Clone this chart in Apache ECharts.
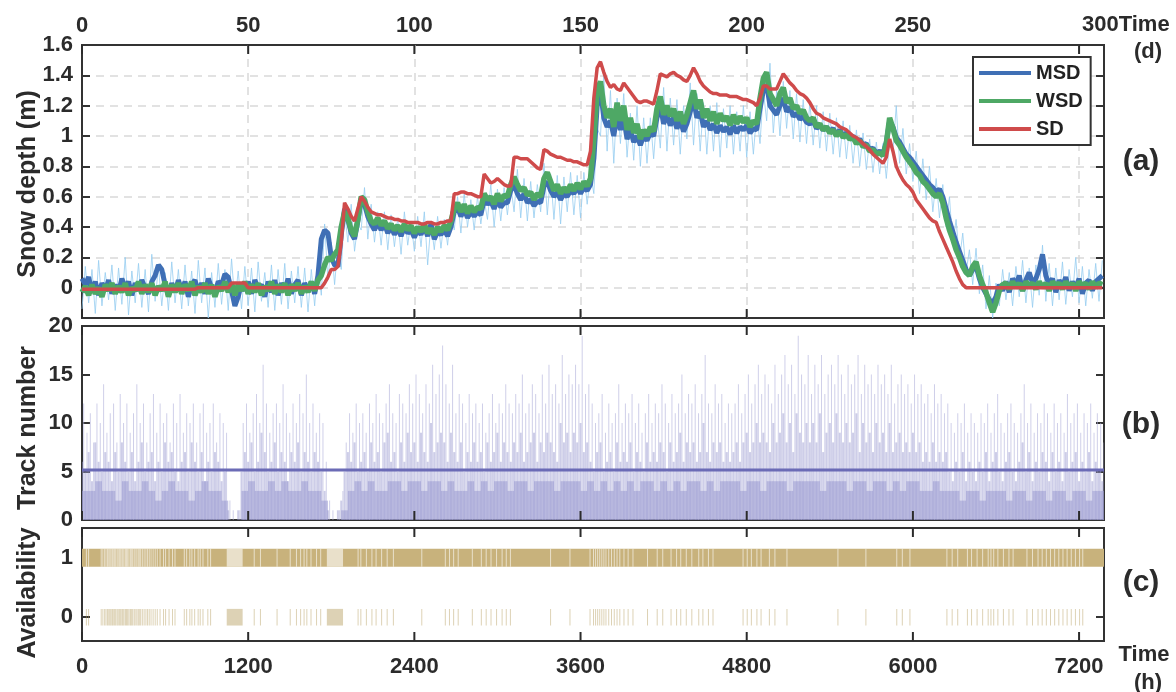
<!DOCTYPE html>
<html>
<head>
<meta charset="utf-8">
<script src="https://cdn.jsdelivr.net/npm/echarts@6/dist/echarts.min.js"></script>
<style>html,body{margin:0;padding:0;background:#fff}#c{width:1176px;height:692px}</style>
</head>
<body>
<div id="c"></div>
<script>
// ---------- DATA ----------
// Daily snow depth (m), index = day 0..307
const sdDepth = [
-0.01,-0.01,-0.01,-0.01,-0.01,-0.01,-0.01,-0.01,-0.01,-0.01,
-0.01,-0.01,-0.01,-0.01,-0.01,-0.01,-0.01,-0.01,-0.01,-0.01,
-0.01,-0.01,-0.01,-0.01,-0.01,-0.01,-0.01,-0.01,-0.01,-0.01,
-0.01,-0.01,-0.01,-0.01,-0.01,0,0,0,0,0,
0,0,0,0,0,0.03,0.03,0.03,0.03,0.03,
0,0,0,0,0,0,0,0,0,0,
0,0,0,0,0,0,0,0,0,0,
0,0,0,0.03,0.07,0.12,0.12,0.14,0.3,0.56,
0.52,0.47,0.44,0.52,0.6,0.57,0.53,0.5,0.49,0.48,
0.48,0.47,0.46,0.46,0.45,0.45,0.44,0.44,0.43,0.43,
0.43,0.43,0.42,0.42,0.43,0.43,0.42,0.42,0.43,0.43,
0.44,0.44,0.62,0.62,0.63,0.63,0.62,0.62,0.61,0.6,
0.6,0.75,0.72,0.69,0.7,0.72,0.7,0.68,0.67,0.67,
0.86,0.86,0.85,0.85,0.85,0.83,0.81,0.79,0.78,0.91,
0.9,0.88,0.87,0.86,0.86,0.85,0.84,0.84,0.83,0.83,
0.82,0.81,0.81,0.9,1.25,1.45,1.49,1.42,1.36,1.32,
1.34,1.31,1.3,1.35,1.32,1.29,1.26,1.23,1.22,1.23,
1.23,1.22,1.21,1.3,1.41,1.4,1.39,1.41,1.42,1.4,
1.39,1.37,1.36,1.4,1.45,1.41,1.36,1.33,1.31,1.29,
1.28,1.28,1.27,1.27,1.27,1.26,1.26,1.26,1.25,1.24,
1.24,1.23,1.22,1.2,1.25,1.33,1.33,1.31,1.31,1.31,
1.36,1.41,1.38,1.35,1.33,1.3,1.28,1.27,1.25,1.22,
1.18,1.15,1.14,1.12,1.11,1.1,1.09,1.08,1.06,1.05,
1.04,1.02,1.0,0.99,0.97,0.95,0.93,0.91,0.88,0.86,
0.84,0.82,0.86,0.98,0.9,0.8,0.75,0.71,0.68,0.66,
0.63,0.58,0.55,0.52,0.49,0.46,0.44,0.43,0.37,0.32,
0.27,0.22,0.17,0.11,0.06,0.02,0,0,0,0,
0,0,0,0,0,0,0,0,0,0,
0,0,0,0,0,0,0,0,0,0,
0,0,0,0,0,0,0,0,0,0,
0,0,0,0,0,0,0,0
];
const wsdDepth = [
-0.03,0.01,-0.05,0.02,-0.04,0,-0.06,0.02,-0.02,0.03,
-0.04,0.01,-0.03,0.03,-0.05,0,-0.02,0.04,-0.04,0.02,
-0.03,0.03,-0.05,0.01,-0.02,0.04,-0.06,0.02,-0.03,0.03,
-0.04,0.02,-0.02,0.04,-0.05,0.01,-0.03,0.03,-0.04,0.02,
-0.06,0.01,-0.02,0.04,-0.03,0.03,-0.05,0.02,-0.02,0.04,
-0.04,0.02,-0.03,0.03,-0.05,0.01,-0.02,0.04,-0.04,0.02,
-0.03,0.03,-0.05,0.02,-0.02,0.03,-0.04,0.01,-0.03,0.04,
-0.02,0.05,0.08,0.15,0.2,0.18,0.22,0.25,0.4,0.5,
0.46,0.38,0.34,0.45,0.6,0.58,0.5,0.44,0.42,0.46,
0.41,0.44,0.39,0.42,0.38,0.41,0.37,0.42,0.38,0.41,
0.36,0.4,0.37,0.42,0.36,0.39,0.35,0.4,0.37,0.41,
0.38,0.44,0.52,0.56,0.5,0.55,0.49,0.54,0.5,0.53,
0.52,0.62,0.58,0.6,0.55,0.62,0.57,0.61,0.6,0.68,
0.73,0.68,0.64,0.66,0.61,0.63,0.58,0.62,0.6,0.72,
0.76,0.7,0.64,0.68,0.62,0.66,0.63,0.68,0.64,0.69,
0.65,0.7,0.67,0.72,0.98,1.3,1.36,1.2,1.12,1.18,
1.06,1.22,1.1,1.2,1.04,1.12,1.02,1.08,0.98,1.04,
1.0,1.06,1.03,1.18,1.26,1.14,1.2,1.13,1.18,1.1,
1.16,1.08,1.14,1.22,1.3,1.18,1.24,1.12,1.18,1.1,
1.16,1.08,1.15,1.1,1.13,1.07,1.14,1.08,1.13,1.09,
1.12,1.06,1.1,1.08,1.25,1.38,1.42,1.28,1.24,1.2,
1.28,1.32,1.22,1.25,1.18,1.2,1.15,1.17,1.12,1.1,
1.12,1.06,1.08,1.04,1.06,1.02,1.04,1.0,1.03,0.99,
1.01,0.98,0.99,0.95,0.97,0.93,0.94,0.9,0.91,0.88,
0.89,0.87,0.95,1.12,1.05,0.97,0.94,0.9,0.86,0.83,
0.8,0.76,0.74,0.7,0.68,0.65,0.62,0.6,0.62,0.56,
0.46,0.38,0.32,0.25,0.2,0.14,0.1,0.08,0.14,0.17,
0.08,0.02,-0.03,-0.1,-0.16,-0.1,-0.02,0.02,0.03,-0.01,
0.04,0,0.03,-0.02,0.04,0.01,0.03,-0.01,0.04,0,
0.03,-0.02,0.04,0.01,0.03,-0.01,0.04,0,0.03,-0.02,
0.04,0.01,0.03,-0.01,0.04,0,0.03,0.02
];
const msdDepth = [
0.06,0.02,0.07,-0.03,0.04,-0.05,0.03,-0.02,0.05,-0.04,
0.02,-0.03,0.06,0,0.04,-0.05,0.03,-0.02,0.05,0,
-0.04,0.04,0.08,0.15,0.12,0.02,-0.05,0.03,-0.03,0.05,
-0.02,0.04,-0.06,0.02,0.05,-0.03,0.03,-0.04,0.06,0,
-0.03,0.04,0.02,0.09,0.07,-0.02,-0.12,-0.06,0.03,-0.02,
0.04,-0.04,0.05,0,0.02,-0.06,0.04,-0.03,0.05,-0.05,
0.03,-0.02,0.06,-0.04,0.02,0.05,-0.05,0.03,-0.02,0.04,
-0.04,0.08,0.32,0.38,0.36,0.2,0.15,0.14,0.35,0.52,
0.45,0.36,0.32,0.44,0.58,0.55,0.47,0.42,0.38,0.43,
0.38,0.42,0.36,0.4,0.35,0.39,0.34,0.4,0.36,0.38,
0.33,0.38,0.35,0.4,0.34,0.42,0.32,0.37,0.35,0.38,
0.34,0.4,0.5,0.53,0.47,0.52,0.46,0.5,0.47,0.5,
0.48,0.58,0.55,0.57,0.52,0.58,0.53,0.56,0.56,0.64,
0.68,0.62,0.58,0.62,0.56,0.58,0.54,0.57,0.56,0.67,
0.7,0.64,0.6,0.63,0.58,0.62,0.6,0.64,0.62,0.66,
0.62,0.66,0.64,0.68,0.85,1.2,1.3,1.12,1.06,1.1,
1.0,1.14,1.04,1.12,0.98,1.04,0.96,1.0,0.94,1.0,
0.97,1.02,1.0,1.12,1.2,1.08,1.14,1.07,1.12,1.05,
1.1,1.03,1.08,1.16,1.24,1.12,1.16,1.06,1.1,1.04,
1.08,1.02,1.07,1.03,1.06,1.01,1.07,1.02,1.06,1.04,
1.07,1.02,1.05,1.04,1.18,1.3,1.34,1.2,1.17,1.14,
1.2,1.25,1.16,1.19,1.13,1.15,1.11,1.13,1.09,1.08,
1.1,1.05,1.07,1.04,1.06,1.03,1.05,1.01,1.04,1.0,
1.02,0.99,1.0,0.96,0.98,0.94,0.95,0.91,0.92,0.89,
0.9,0.88,0.96,1.1,1.06,0.99,0.96,0.92,0.88,0.86,
0.83,0.8,0.77,0.74,0.71,0.68,0.66,0.63,0.65,0.6,
0.52,0.44,0.37,0.3,0.24,0.18,0.12,0.08,0.12,0.14,
0.06,0,-0.04,-0.08,-0.1,-0.06,0.02,-0.02,0.04,-0.03,
0.06,0.02,0.08,-0.02,0.05,0.1,0.03,0.06,0.12,0.22,
0.08,0.02,0.06,-0.03,0.05,0.01,0.07,-0.02,0.04,0,
0.06,-0.04,0.03,0.05,-0.02,0.04,0.06,0.08
];
// Raw (hourly) MSD scatter envelope, every 2 days (index*2 = day)
const rawHi = [
0.14,0.12,0.18,0.1,0.15,0.13,0.2,0.11,0.16,0.12,0.22,0.14,0.1,0.17,0.12,0.15,0.11,0.18,
0.13,0.1,0.16,0.12,0.19,0.11,0.14,0.13,0.17,0.1,0.15,0.12,0.16,0.11,0.14,0.13,0.12,0.16,
0.42,0.3,0.28,0.5,
0.55,0.42,0.66,0.55,0.5,0.5,0.48,0.46,0.5,0.44,0.47,0.5,0.43,0.47,0.45,0.5,
0.6,0.62,0.58,0.6,0.58,0.68,0.65,0.66,0.68,0.78,0.72,0.7,0.68,0.82,0.75,0.74,0.73,0.76,0.74,0.76,0.75,
1.05,1.42,1.3,1.25,1.28,1.15,1.2,1.12,1.12,1.15,1.32,1.25,1.24,1.2,1.35,1.28,1.22,1.2,1.22,1.18,1.2,1.16,1.2,1.16,1.15,1.3,1.48,
1.3,1.36,1.3,1.28,1.24,1.22,1.2,1.16,1.15,1.12,1.1,1.07,1.04,1.02,0.98,0.96,0.95,0.97,1.2,1.05,0.95,0.9,0.85,0.8,0.72,0.68,0.6,0.45,0.36,0.25,0.26,0.15,
0.08,0.03,0.12,0.1,0.14,0.18,0.13,0.15,0.28,0.16,0.13,0.17,0.12,0.2,0.14,0.12,0.16,0.18
];
const rawLo = [
-0.14,-0.1,-0.17,-0.12,-0.08,-0.15,-0.11,-0.18,-0.1,-0.13,-0.16,-0.09,-0.12,-0.15,-0.1,-0.14,-0.12,-0.17,
-0.1,-0.2,-0.13,-0.11,-0.15,-0.1,-0.14,-0.12,-0.16,-0.09,-0.13,-0.15,-0.11,-0.14,-0.1,-0.13,-0.16,-0.12,
-0.05,0.05,0.02,0.12,
0.3,0.24,0.38,0.32,0.3,0.28,0.25,0.27,0.22,0.28,0.24,0.27,0.15,0.25,0.26,0.28,
0.38,0.36,0.4,0.38,0.42,0.45,0.4,0.44,0.48,0.5,0.46,0.44,0.46,0.5,0.48,0.45,0.42,0.5,0.48,0.46,0.55,
0.62,1.0,0.9,0.82,0.95,0.86,0.84,0.8,0.82,0.85,0.92,0.9,0.94,0.88,0.98,0.94,0.9,0.88,0.9,0.86,0.92,0.88,0.9,0.86,0.88,0.95,1.1,
1.02,1.0,1.05,0.98,0.96,0.95,0.94,0.92,0.9,0.88,0.86,0.85,0.82,0.8,0.78,0.76,0.75,0.72,0.9,0.82,0.75,0.7,0.62,0.58,0.5,0.46,0.4,0.28,0.18,0.1,0.02,-0.04,
-0.14,-0.2,-0.12,-0.08,-0.12,-0.06,-0.1,-0.13,-0.05,-0.09,-0.12,-0.08,-0.11,-0.06,-0.1,-0.12,-0.07,-0.09
];
// Track number per day: tallest, middle and base levels
const trackMax = [
12,9,11,8,12,10,14,9,11,12,8,13,10,12,9,11,14,10,12,8,11,13,9,12,10,11,8,12,10,13,9,11,10,12,8,11,12,9,10,12,8,11,10,9,
2,1,0,1,
10,12,9,11,13,10,16,12,9,11,12,10,14,11,9,12,10,13,11,15,10,12,9,11,10,6,
2,1,0,1,3,
8,11,9,12,10,11,9,12,10,13,
11,10,12,14,11,10,13,12,11,14,
12,15,13,11,14,12,16,13,15,18,
14,12,16,11,13,12,10,13,11,12,
10,12,9,11,13,10,12,11,14,12,
11,13,12,15,11,12,14,13,11,15,
12,16,13,14,12,17,13,15,14,16,
14,19,13,14,
12,10,11,13,9,12,10,11,14,10,
12,11,13,10,12,9,11,13,10,12,
11,14,12,10,13,11,12,15,11,13,
12,14,11,13,17,12,11,14,12,13,10,12,11,
12,14,11,13,15,12,14,16,13,15,
14,12,16,13,15,17,14,16,13,19,
15,14,17,13,
16,14,17,13,15,16,14,17,15,13,
16,14,15,17,13,16,14,15,13,16,
14,15,13,16,12,14,15,13,14,12,
15,13,14,12,13,11,14,12,13,11,12,
10,9,11,10,12,9,11,10,9,11,
10,12,9,11,13,10,9,11,12,10,
9,11,14,10,12,9,11,10,12,11,
9,12,10,11,9,13,10,11,12,9,
11,10,12,9,11,10,8
];
const trackMid = [
6,5,7,4,8,6,5,7,6,4,7,5,8,6,5,7,4,6,8,5,6,7,4,6,5,8,6,7,5,4,6,7,5,8,6,5,7,4,6,5,7,6,4,5,
1,0,0,1,
5,7,6,8,5,6,9,7,5,6,8,5,7,6,4,7,6,8,5,7,6,5,7,6,5,3,
1,0,0,1,2,
5,7,6,8,5,6,7,5,8,6,
7,5,8,9,6,7,5,8,6,9,
7,8,6,9,7,6,10,7,8,9,
8,6,9,7,6,8,5,7,6,8,
6,7,5,8,6,7,9,6,8,7,
6,8,7,9,6,7,8,9,6,8,
7,9,8,7,6,10,8,9,7,9,
8,10,7,8,
6,5,7,8,5,6,7,5,8,6,
7,6,8,5,7,6,5,8,6,7,
6,8,7,5,8,6,7,9,6,8,
7,8,6,7,10,7,6,8,7,8,6,7,6,
7,8,6,8,9,7,8,10,8,9,
8,7,10,8,9,11,8,10,7,11,
9,8,10,8,
10,8,11,7,9,10,8,11,9,8,
10,8,9,11,7,10,8,9,7,10,
8,9,7,10,7,8,9,7,8,7,
9,7,8,6,7,6,8,6,7,6,7,
5,4,6,5,7,4,6,5,4,6,
5,7,4,6,7,5,4,6,7,5,
4,6,8,5,7,4,6,5,7,6,
4,7,5,6,4,7,5,6,7,4,
6,5,7,4,6,5,4
];
const trackLow = [
3,3,4,3,3,2,4,3,3,4,3,2,3,4,3,3,2,3,4,3,3,2,
0,0,
3,4,3,3,4,3,4,3,3,4,3,3,2,
0,0,1,
3,4,3,4,3,3,4,4,3,4,
4,3,4,4,3,4,3,3,4,3,
4,3,4,4,3,4,4,3,4,4,
4,3,4,4,4,3,4,3,4,3,
4,3,4,3,4,4,3,4,3,4,
3,4,4,3,4,3,4,4,4,3,
4,4,3,4,4,4,3,4,4,4,
4,3,4,4,4,3,4,4,3,4,
4,3,4,3,4,4,3,3,4,3,
3,3,2,3,3,2,3,3,3,2,
3,3,2,3,3,2,3,3,2,3,
3,2,3,3
];
const trackMean = 5.15;
// Hours with no available observation (availability = 0)
const unavailHours = [
28,44,135,147,160,170,181,190,198,206,215,222,232,240,250,258,268,276,285,292,300,310,318,326,
335,345,352,360,372,380,392,402,410,420,432,445,458,470,482,495,510,525,540,560,585,600,625,650,
668,735,752,775,790,810,835,850,870,905,925,1240,1285,1405,1500,1545,1575,1600,1620,1650,1690,1720,
1990,2010,2050,2090,2120,2160,2200,2245,2450,2620,2650,2680,2713,2815,2880,2915,2950,2990,3030,3060,
3090,3380,3520,3665,3690,3705,3720,3735,3750,3765,3780,3800,3820,3840,3860,3880,3910,3940,3975,
4080,4150,4190,4250,4290,4320,4360,4400,4450,4480,4520,4553,4770,4800,4830,4870,4900,4960,5000,5087,
5455,5657,5880,5920,5975,6242,6280,6320,6390,6420,6460,6500,6540,6560,6580,6610,6650,6690,6720,
6820,6860,6900,6930,6960,6990,7020,7050,7080,7110,7140,7170,7200,7223
];
const unavailSpans = [[1045,1160],[1768,1885]];
// Tick positions
const dayTicks = [0, 50, 100, 150, 200, 250, 300];
const hourTicks = [0, 1200, 2400, 3600, 4800, 6000, 7200];
const dayMax = 307.5, hourMax = 7380;

// ---------- CHART ----------
const FONT = '"Liberation Sans", Arial, Helvetica, sans-serif';
const TXT = '#2b2b2b';
const chart = echarts.init(document.getElementById('c'), null, {renderer: 'canvas'});

const lbl = (extra) => Object.assign({fontFamily: FONT, fontWeight: 'bold', fontSize: 22, color: TXT}, extra || {});
const tick = {show: true, inside: true, length: 8, lineStyle: {color: '#333', width: 2}};
const noLine = {show: false, onZero: false};
const dash = {show: true, showMinLine: false, showMaxLine: false, lineStyle: {color: '#d9d9d9', width: 1.5, type: [8, 6]}};

const sdPts = sdDepth.map((v, i) => [i, v]);
const wsdPts = wsdDepth.map((v, i) => [i, v]);
const msdPts = msdDepth.map((v, i) => [i, v]);
const rawPts = [];
rawLo.forEach((lo, i) => { rawPts.push([i * 2, lo]); rawPts.push([i * 2 + 1, rawHi[i]]); });

function barRender(widthPx, color) {
  return function (params, api) {
    const x = api.value(0), v = api.value(1);
    const p0 = api.coord([x, 0]), p1 = api.coord([x, v]);
    return {type: 'rect', shape: {x: p0[0] - widthPx / 2, y: p1[1], width: widthPx, height: p0[1] - p1[1]},
      style: {fill: color}};
  };
}
function bandRender(params, api) {
  const a = api.coord([api.value(0), 1.15]), b = api.coord([api.value(1), 0.85]);
  return {type: 'rect', shape: {x: a[0], y: a[1], width: b[0] - a[0], height: b[1] - a[1]}, style: {fill: '#c8b27c'}};
}
function gapRender(params, api) {
  const s = api.value(0), e = api.value(1);
  const a = api.coord([s, 1.15]), b = api.coord([e, 0.85]);
  const c = api.coord([s, 0.14]), d = api.coord([e, -0.14]);
  const w = Math.max(1, b[0] - a[0]);
  return {type: 'group', children: [
    {type: 'rect', shape: {x: a[0], y: a[1], width: w, height: b[1] - a[1]}, style: {fill: 'rgba(255,255,255,0.6)'}},
    {type: 'rect', shape: {x: c[0], y: c[1], width: w, height: d[1] - c[1]}, style: {fill: 'rgba(180,155,90,0.45)'}}
  ]};
}
// x tick marks (inside) on the top and bottom edge of a panel, as filled rects through the axis scale
function xTickRender(yMin, yMax) {
  return function (params, api) {
    const b = api.coord([api.value(0), yMin]), t = api.coord([api.value(0), yMax]);
    return {type: 'group', children: [
      {type: 'rect', shape: {x: b[0] - 1, y: b[1] - 9, width: 2, height: 9}, style: {fill: '#2b2b2b'}},
      {type: 'rect', shape: {x: t[0] - 1, y: t[1], width: 2, height: 9}, style: {fill: '#2b2b2b'}}
    ]};
  };
}

const gapData = unavailHours.map(h => [h, h + 1]).concat(unavailSpans.map(s => [s[0], s[1]]));

const gridBox = [
  {left: 82, top: 45, width: 1022, height: 273},
  {left: 82, top: 326, width: 1022, height: 194},
  {left: 82, top: 528, width: 1022, height: 113}
];

const textEl = (x, y, text, size, align, rot) => ({
  type: 'text', x: x, y: y, z: 50, rotation: rot || 0, silent: true,
  style: {text: text, font: 'bold ' + size + 'px ' + FONT, fill: TXT, align: align, verticalAlign: 'middle',
    textAlign: align, textVerticalAlign: 'middle'}
});

const option = {
  backgroundColor: '#fff',
  animation: false,
  grid: gridBox.map(g => ({left: g.left, top: g.top, width: g.width, height: g.height, show: true,
    borderColor: '#333', borderWidth: 2, backgroundColor: 'rgba(0,0,0,0)'})),
  xAxis: [
    {gridIndex: 0, type: 'value', position: 'top', min: 0, max: dayMax, interval: 50,
      axisLine: noLine, axisTick: {show: false}, splitLine: dash,
      axisLabel: lbl({margin: 8, showMaxLabel: false, formatter: v => (v % 50 === 0 && v < 300 ? String(v) : '')})},
    {gridIndex: 1, type: 'value', position: 'bottom', min: 0, max: hourMax, interval: 1200,
      axisLine: noLine, axisTick: {show: false}, splitLine: {show: false}, axisLabel: {show: false}},
    {gridIndex: 2, type: 'value', position: 'bottom', min: 0, max: hourMax, interval: 1200,
      axisLine: noLine, axisTick: {show: false}, splitLine: {show: false},
      axisLabel: lbl({margin: 15, showMaxLabel: false, formatter: v => (v % 1200 === 0 ? String(v) : '')})}
  ],
  yAxis: [
    {gridIndex: 0, type: 'value', position: 'left', min: -0.2, max: 1.6, interval: 0.2,
      axisLine: noLine, axisTick: tick, splitLine: dash,
      axisLabel: lbl({margin: 9, formatter: v => (v < -0.01 ? '' : String(+v.toFixed(1)))})},
    {gridIndex: 0, type: 'value', position: 'right', min: -0.2, max: 1.6, interval: 0.2,
      axisLine: noLine, axisTick: tick, splitLine: {show: false}, axisLabel: {show: false}},
    {gridIndex: 1, type: 'value', position: 'left', min: 0, max: 20, interval: 5,
      axisLine: noLine, axisTick: tick, splitLine: {show: false}, axisLabel: lbl({margin: 9})},
    {gridIndex: 1, type: 'value', position: 'right', min: 0, max: 20, interval: 5,
      axisLine: noLine, axisTick: tick, splitLine: {show: false}, axisLabel: {show: false}},
    {gridIndex: 2, type: 'value', position: 'left', min: -0.4, max: 1.5,
      axisLine: noLine, axisTick: Object.assign({customValues: [0, 1]}, tick), splitLine: {show: false},
      axisLabel: lbl({margin: 9, customValues: [0, 1]})},
    {gridIndex: 2, type: 'value', position: 'right', min: -0.4, max: 1.5,
      axisLine: noLine, axisTick: Object.assign({customValues: [0, 1]}, tick), splitLine: {show: false},
      axisLabel: {show: false}}
  ],
  legend: {
    left: 973, top: 57, orient: 'vertical', icon: 'rect', itemWidth: 52, itemHeight: 4, itemGap: 8,
    padding: [6, 8, 6, 6], borderColor: '#333', borderWidth: 2, backgroundColor: '#fff', borderRadius: 0,
    textStyle: {fontFamily: FONT, fontWeight: 'bold', fontSize: 20, color: '#222'},
    data: ['MSD', 'WSD', 'SD'], z: 20
  },
  series: [
    {name: 'raw', type: 'line', xAxisIndex: 0, yAxisIndex: 0, data: rawPts, symbol: 'none', silent: true,
      lineStyle: {color: 'rgba(150,205,240,0.8)', width: 1}, z: 1},
    {name: 'MSD', type: 'line', xAxisIndex: 0, yAxisIndex: 0, data: msdPts, symbol: 'none',
      itemStyle: {color: '#3f6fb5'}, lineStyle: {color: '#3f6fb5', width: 5}, z: 2},
    {name: 'WSD', type: 'line', xAxisIndex: 0, yAxisIndex: 0, data: wsdPts, symbol: 'none',
      itemStyle: {color: '#4ea865'}, lineStyle: {color: '#4ea865', width: 5.5}, z: 3},
    {name: 'SD', type: 'line', xAxisIndex: 0, yAxisIndex: 0, data: sdPts, symbol: 'none',
      itemStyle: {color: '#cf4b4b'}, lineStyle: {color: '#cf4b4b', width: 3.5}, z: 4},
    {name: 'ticksA', type: 'custom', xAxisIndex: 0, yAxisIndex: 0, silent: true, clip: false,
      data: dayTicks.map(v => [v, 0.5]), renderItem: xTickRender(-0.2, 1.6), z: 30},

    {name: 'trackLow', type: 'custom', xAxisIndex: 1, yAxisIndex: 2, clip: true, silent: true,
      data: trackLow.map((v, i) => [i * 48 + 24, v]), renderItem: barRender(6.7, 'rgba(155,155,210,0.6)'), z: 1},
    {name: 'trackMid', type: 'custom', xAxisIndex: 1, yAxisIndex: 2, clip: true, silent: true,
      data: trackMid.map((v, i) => [i * 24, v]), renderItem: barRender(2, 'rgba(155,155,210,0.5)'), z: 2},
    {name: 'trackMax', type: 'custom', xAxisIndex: 1, yAxisIndex: 2, clip: true, silent: true,
      data: trackMax.map((v, i) => [i * 24 + 12, v]), renderItem: barRender(1, 'rgba(175,175,218,0.6)'), z: 3},
    {name: 'mean', type: 'line', xAxisIndex: 1, yAxisIndex: 2, symbol: 'none', silent: true,
      data: [[0, trackMean], [hourMax, trackMean]], lineStyle: {color: '#6b6bb6', width: 3}, z: 5},
    {name: 'ticksB', type: 'custom', xAxisIndex: 1, yAxisIndex: 2, silent: true, clip: false,
      data: hourTicks.map(v => [v, 10]), renderItem: xTickRender(0, 20), z: 30},

    {name: 'availBand', type: 'custom', xAxisIndex: 2, yAxisIndex: 4, clip: true, silent: true,
      data: [[0, hourMax]], renderItem: bandRender, z: 1},
    {name: 'availGap', type: 'custom', xAxisIndex: 2, yAxisIndex: 4, clip: true, silent: true,
      data: gapData, renderItem: gapRender, z: 2},
    {name: 'ticksC', type: 'custom', xAxisIndex: 2, yAxisIndex: 4, silent: true, clip: false,
      data: hourTicks.map(v => [v, 0.5]), renderItem: xTickRender(-0.4, 1.5), z: 30}
  ],
  graphic: [
    textEl(1082, 25, '300Time', 22, 'left'),
    textEl(1148, 52, '(d)', 22, 'center'),
    textEl(1144, 655, 'Time', 22, 'center'),
    textEl(1148, 683, '(h)', 22, 'center'),
    textEl(1141, 162, '(a)', 30, 'center'),
    textEl(1141, 425, '(b)', 30, 'center'),
    textEl(1141, 583, '(c)', 30, 'center'),
    textEl(28, 184, 'Snow depth (m)', 25, 'center', Math.PI / 2),
    textEl(28, 428, 'Track number', 25, 'center', Math.PI / 2),
    textEl(28, 593, 'Availability', 25, 'center', Math.PI / 2)
  ]
};
chart.setOption(option);
</script>
</body>
</html>
